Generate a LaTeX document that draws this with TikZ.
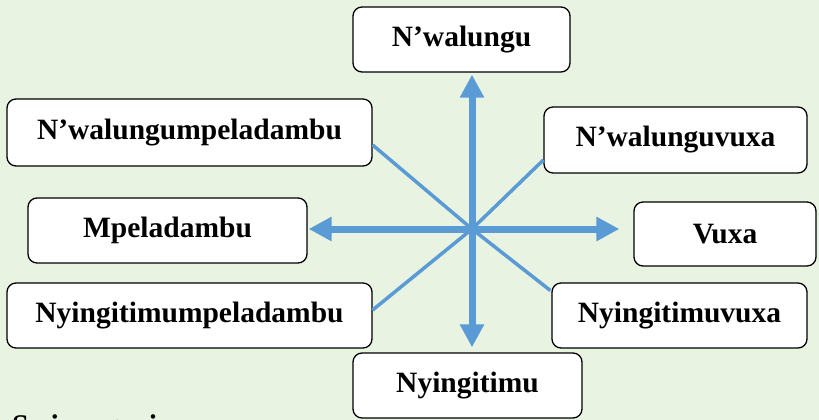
\documentclass[tikz,border=0pt]{standalone}
\usepackage{fontspec}
\setmainfont{Liberation Serif}
\usetikzlibrary{arrows.meta}
\definecolor{bgc}{RGB}{233,243,226}
\definecolor{arrc}{RGB}{91,155,213}
\begin{document}
\begin{tikzpicture}[x=1pt,y=-1pt,
  box/.style={draw=black, line width=1.3pt, fill=white, rounded corners=9pt,
    inner sep=0pt, font=\bfseries\fontsize{29.5}{33}\selectfont},
  bigarrow/.style={draw=arrc, line width=7pt, {Triangle[length=23pt,width=23pt]}-{Triangle[length=23pt,width=23pt]}},
  diag/.style={draw=arrc, line width=3.5pt},
  heading/.style={anchor=base west, inner sep=0pt, font=\bfseries\fontsize{30}{36}\selectfont}]
\useasboundingbox (0,0) rectangle (819,420);
\fill[bgc] (0,0) rectangle (819,420);
\clip (0,0) rectangle (819,420);

\coordinate (c) at (472,229);

\node[box, minimum width=217pt, minimum height=65pt] (N)  at (461.5,39.5) {N’walungu};
\node[box, minimum width=365pt, minimum height=67pt] (NW) at (189.5,132.5) {N’walungumpeladambu};
\node[box, minimum width=263pt, minimum height=66pt] (NE) at (675.5,140) {N’walunguvuxa};
\node[box, minimum width=182pt, minimum height=64pt] (E)  at (725,234) {Vuxa};
\node[box, minimum width=279pt, minimum height=65pt] (W)  at (167.5,230.5) {Mpeladambu};
\node[box, minimum width=365pt, minimum height=65pt] (SW) at (189.5,315.5) {Nyingitimumpeladambu};
\node[box, minimum width=255pt, minimum height=65pt] (SE) at (679.5,315.5) {Nyingitimuvuxa};
\node[box, minimum width=229pt, minimum height=65pt] (S)  at (467.5,385.5) {Nyingitimu};

\draw[diag] (c) -- ([yshift=-12.5pt]NW.east);
\draw[diag] (c) -- ([yshift=-20pt]NE.west);
\draw[diag] (c) -- ([yshift=5.5pt]SW.east);
\draw[diag] (c) -- ([yshift=25pt,xshift=-1pt]SE.west);

\draw[bigarrow, shorten <=2pt, shorten >=5pt] (c |- N.south) -- (c |- S.north);
\draw[bigarrow, shorten <=1pt, shorten >=14pt] (c -| W.east) -- (c -| E.west);

\node[heading] (hd) at (12,435) {Swiyengeni};
\end{tikzpicture}
\end{document}
